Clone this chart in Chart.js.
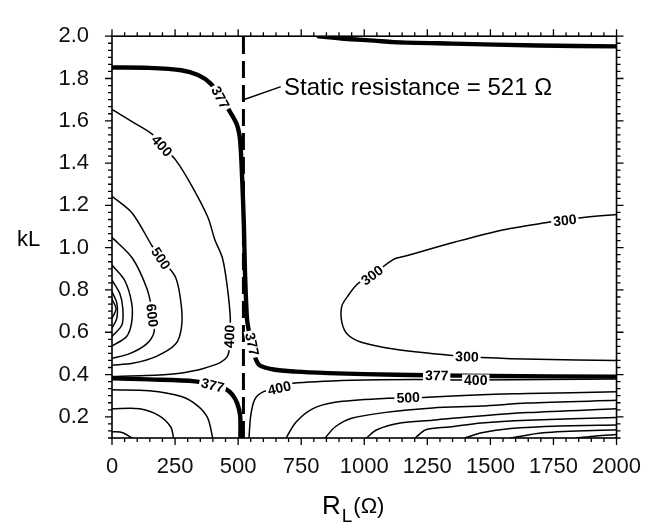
<!DOCTYPE html>
<html><head><meta charset="utf-8">
<script src="https://cdn.jsdelivr.net/npm/chart.js@4.4.1/dist/chart.umd.min.js"></script>
<style>html,body{margin:0;padding:0;background:#fff}canvas{display:block}</style>
</head><body>
<canvas id="c" width="657" height="529"></canvas>
<script>
// ---- axis ticks ----
const xTicks = [0, 250, 500, 750, 1000, 1250, 1500, 1750, 2000];
const yTicks = [0.2, 0.4, 0.6, 0.8, 1.0, 1.2, 1.4, 1.6, 1.8, 2.0];
const staticResistance = 521;

// ---- contour lines [R_L, kL] ----
const c377Upper = [[0,1.852],[147,1.850],[275,1.839],[341,1.816],[391,1.776],[430,1.712],[469,1.640],[496,1.579],[508,1.505],[516,1.325],[523,1.099],[527,0.891],[535,0.666],[543,0.602],[554,0.544],[566,0.485],[585,0.444],[640,0.424],[729,0.414],[857,0.407],[1000,0.402],[1250,0.397],[1500,0.393],[2000,0.390]];
const c377Lower = [[0,0.382],[147,0.377],[329,0.368],[399,0.350],[450,0.332],[477,0.305],[496,0.265],[508,0.206],[509,0.1]];
const c377Top = [[818,2.0],[922,1.988],[1039,1.979],[1116,1.972],[1349,1.965],[1686,1.956],[2000,1.952]];
const c400Upper = [[0,1.654],[81,1.595],[159,1.537],[198,1.482],[252,1.415],[314,1.297],[380,1.144],[407,1.040],[438,0.950],[457,0.815],[469,0.666],[466,0.580],[465,0.521],[457,0.485],[430,0.458],[380,0.435],[341,0.422],[252,0.404],[130,0.395],[0,0.391]];
const c500Upper = [[0,1.243],[81,1.162],[159,1.008],[194,0.950],[252,0.860],[275,0.724],[275,0.620],[252,0.544],[174,0.485],[81,0.453],[0,0.444]];
const c600Upper = [[0,1.049],[81,0.950],[140,0.801],[160,0.690],[167,0.602],[136,0.544],[70,0.499],[0,0.476]];
const c700Upper = [[0,0.918],[50,0.846],[78,0.738],[78,0.648],[58,0.580],[0,0.535]];
const c800Upper = [[0,0.846],[31,0.783],[43,0.711],[39,0.634],[0,0.580]];
const c900Upper = [[0,0.792],[19,0.738],[19,0.666],[0,0.620]];
const c1000Upper = [[0,0.756],[16,0.711],[0,0.666]];
const c400LowerLeft = [[0,0.328],[147,0.323],[275,0.296],[341,0.251],[380,0.193],[399,0.1]];
const c500LowerLeft = [[0,0.238],[109,0.238],[186,0.206],[233,0.152],[244,0.1]];
const c600LowerLeft = [[0,0.130],[43,0.125],[78,0.1]];
const c400LowerRight = [[543,0.1],[550,0.206],[566,0.283],[601,0.319],[663,0.340],[717,0.359],[950,0.373],[1205,0.377],[1442,0.374],[2000,0.379]];
const c300 = [[2000,1.157],[1841,1.139],[1736,1.121],[1554,1.085],[1360,1.027],[1167,0.962],[1116,0.945],[1031,0.870],[973,0.828],[934,0.770],[911,0.724],[911,0.648],[934,0.589],[988,0.553],[1116,0.521],[1349,0.490],[1465,0.481],[1686,0.472],[2000,0.467]];
const r500 = [[690,0.1],[729,0.175],[795,0.238],[884,0.269],[1078,0.287],[1233,0.292],[1465,0.305],[1647,0.310],[2000,0.319]];
const r600 = [[845,0.1],[884,0.152],[950,0.193],[1078,0.220],[1271,0.242],[1465,0.251],[1647,0.265],[2000,0.278]];
const r700 = [[1008,0.1],[1050,0.139],[1143,0.171],[1271,0.184],[1388,0.197],[1647,0.220],[2000,0.238]];
const r800 = [[1202,0.1],[1244,0.139],[1337,0.152],[1465,0.171],[1647,0.184],[2000,0.197]];
const r900 = [[1399,0.1],[1465,0.125],[1581,0.145],[1775,0.157],[2000,0.161]];
const r1000 = [[1581,0.1],[1709,0.125],[2000,0.139]];
const r1100 = [[1841,0.1],[1920,0.110],[2000,0.116]];
const leader = [[527,1.702],[667,1.760]];

// ---- contour labels ----
const labelTexts = ['377','400','500','600','400','377','377','400','300','300','300','377','400','500'];
const labelX =     [430, 198, 194, 160, 465, 556, 399, 663, 1031, 1795, 1407, 1287, 1442, 1174];
const labelY =     [1.710, 1.482, 0.950, 0.680, 0.580, 0.544, 0.350, 0.337, 0.870, 1.130, 0.485, 0.396, 0.372, 0.292];
const labelAngle = [62, 48, 56, 84, -88, 78, 14, -13, -36, -6, 2, 1, 0, -2];

const annotationText = 'Static resistance = 521 \u03A9';
const annotationPos = [682, 1.753];

const FONT = 'Liberation Sans, Arial, sans-serif';
const toPts = a => a.map(([x, y]) => ({x, y}));
function ds(arr, w, dash) {
  return { data: toPts(arr), showLine: true, borderColor: '#000', backgroundColor: '#000',
           borderWidth: w, pointRadius: 0, tension: 0.3, fill: false, borderDash: dash || [],
           borderCapStyle: 'round', borderJoinStyle: 'round' };
}
const thin = 1.5, thick = 4.4;
const datasets = [
  ds(c400Upper, thin), ds(c500Upper, thin), ds(c600Upper, thin), ds(c700Upper, thin),
  ds(c800Upper, thin), ds(c900Upper, thin), ds(c1000Upper, thin),
  ds(c400LowerLeft, thin), ds(c500LowerLeft, thin), ds(c600LowerLeft, thin),
  ds(c400LowerRight, thin), ds(c300, thin),
  ds(r500, thin), ds(r600, thin), ds(r700, thin), ds(r800, thin), ds(r900, thin), ds(r1000, thin), ds(r1100, thin),
  ds(c377Upper, thick), ds(c377Lower, thick), ds(c377Top, thick),
  Object.assign(ds([[staticResistance, 0.1],[staticResistance, 2.0]], 3, [17, 7]), {tension: 0, borderCapStyle: 'butt'}),
  Object.assign(ds(leader, 1.4), {tension: 0})
];

const decor = {
  id: 'decor',
  afterDraw(chart) {
    const ctx = chart.ctx, a = chart.chartArea, xs = chart.scales.x, ys = chart.scales.y;
    ctx.save();
    // contour labels
    ctx.font = 'bold 14px ' + FONT;
    ctx.textAlign = 'center'; ctx.textBaseline = 'middle';
    labelTexts.forEach((t, i) => {
      const px = xs.getPixelForValue(labelX[i]), py = ys.getPixelForValue(labelY[i]);
      ctx.save(); ctx.translate(px, py); ctx.rotate(labelAngle[i] * Math.PI / 180);
      const w = ctx.measureText(t).width;
      ctx.fillStyle = '#fff'; ctx.fillRect(-w / 2 - 2, -6, w + 4, 12);
      ctx.fillStyle = '#000'; ctx.fillText(t, 0, 1);
      ctx.restore();
    });
    // frame
    ctx.strokeStyle = '#000'; ctx.lineWidth = 1.6;
    ctx.strokeRect(a.left, a.top, a.right - a.left, a.bottom - a.top);
    // ticks
    ctx.lineWidth = 1.3; ctx.beginPath();
    for (let i = 0; i <= 40; i++) {
      const v = i * 50, p = xs.getPixelForValue(v), L = (i % 5 === 0) ? 7 : 4;
      ctx.moveTo(p, a.bottom); ctx.lineTo(p, a.bottom + L);
      ctx.moveTo(p, a.top); ctx.lineTo(p, a.top - L);
    }
    for (let i = 0; i <= 57; i++) {
      const v = 0.1 + i / 30, p = ys.getPixelForValue(v), L = (i % 6 === 3) ? 7 : 4;
      ctx.moveTo(a.left, p); ctx.lineTo(a.left - L, p);
      ctx.moveTo(a.right, p); ctx.lineTo(a.right + L, p);
    }
    ctx.stroke();
    // annotation
    ctx.fillStyle = '#000';
    ctx.font = '24px ' + FONT; ctx.textAlign = 'left'; ctx.textBaseline = 'middle';
    ctx.fillText(annotationText, xs.getPixelForValue(annotationPos[0]), ys.getPixelForValue(annotationPos[1]));
    // axis titles
    ctx.font = '22px ' + FONT; ctx.textBaseline = 'middle';
    ctx.fillText('kL', 17, 240);
    ctx.textBaseline = 'alphabetic';
    let x0 = 322;
    ctx.font = '26px ' + FONT; ctx.fillText('R', x0, 514); x0 += ctx.measureText('R').width + 1;
    ctx.font = '19px ' + FONT; ctx.fillText('L', x0, 522); x0 += ctx.measureText('L').width + 1;
    ctx.font = '22px ' + FONT; ctx.fillText('(\u03A9)', x0, 513);
    ctx.restore();
  }
};

new Chart(document.getElementById('c'), {
  type: 'scatter',
  data: { datasets },
  options: {
    responsive: false, animation: false, devicePixelRatio: 1,
    layout: { padding: { left: 0, right: 29, top: 17, bottom: 0 } },
    plugins: { legend: { display: false }, tooltip: { enabled: false } },
    scales: {
      x: {
        type: 'linear', min: 0, max: 2000,
        afterBuildTicks: s => { s.ticks = xTicks.map(v => ({ value: v })); },
        afterFit: s => { s.height = 91; },
        grid: { display: false, drawTicks: false },
        border: { display: false },
        ticks: { color: '#111', font: { family: FONT, size: 22 }, padding: 16, maxRotation: 0, autoSkip: false, callback: v => String(v) }
      },
      y: {
        type: 'linear', min: 0.1, max: 2.0,
        afterBuildTicks: s => { s.ticks = yTicks.map(v => ({ value: v })); },
        afterFit: s => { s.width = 112; },
        grid: { display: false, drawTicks: false },
        border: { display: false },
        ticks: { color: '#111', font: { family: FONT, size: 22 }, padding: 23, autoSkip: false, callback: v => Number(v).toFixed(1) }
      }
    }
  },
  plugins: [decor]
});
</script>
</body></html>
